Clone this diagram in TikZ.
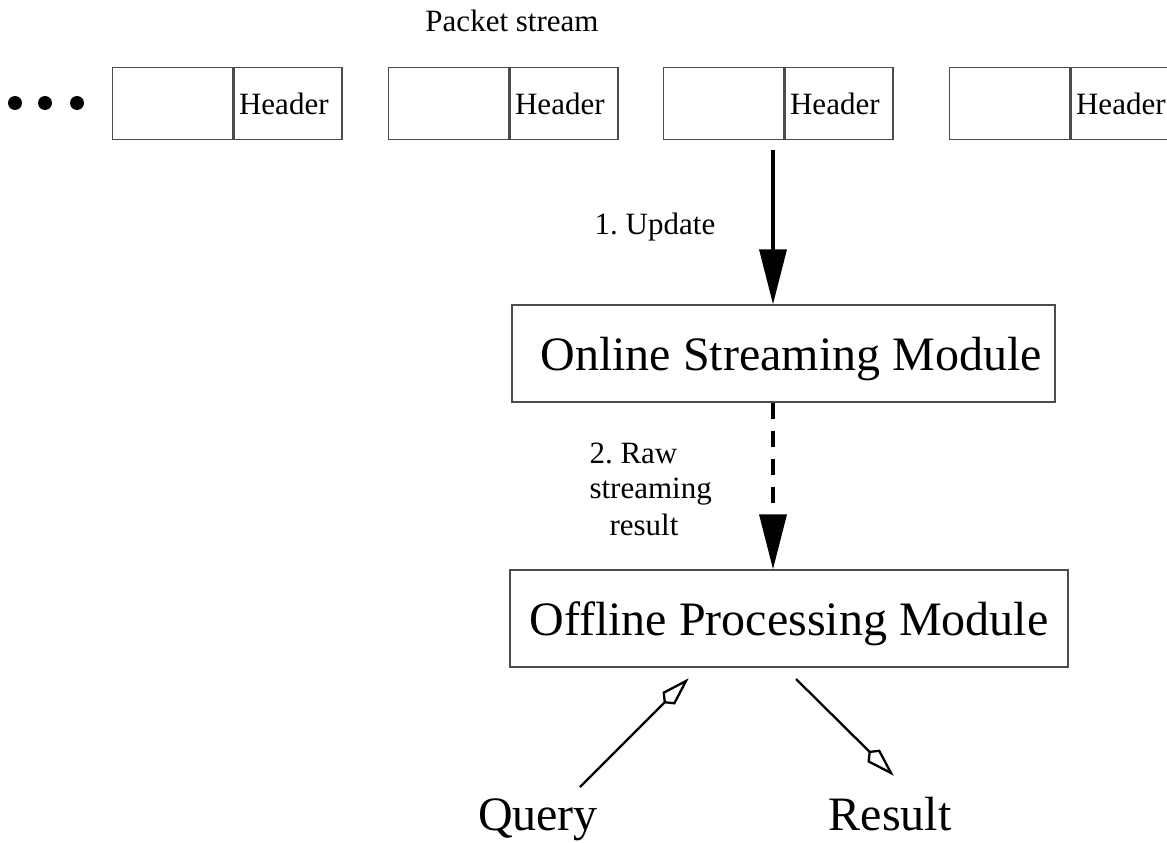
\documentclass[tikz,border=0pt]{standalone}
\usepackage{fontspec}
\setmainfont{Liberation Serif}
\frenchspacing
\usetikzlibrary{arrows.meta,calc}
% a line ending in an open kite-shaped head: #1 = start, #2 = tip
\newcommand\kitelink[2]{%
  \draw[link] (#1) -- ($(#2)!30pt!(#1)$);
  \draw[link] ($(#2)!30pt!(#1)$) -- ($(#2)!24pt!(#1)!7.5pt!90:(#1)$) -- (#2)
    -- ($(#2)!24pt!(#1)!7.5pt!-90:(#1)$) -- cycle;
}
\begin{document}
\begin{tikzpicture}[x=1pt,y=-1pt,
  frame/.style={draw=black!70, line width=1.4pt, inner sep=0pt},
  small/.style={font=\fontsize{31}{37}\selectfont},
  big/.style={font=\fontsize{48}{56}\selectfont},
  flow/.style={line width=3.6pt, -{Triangle[length=55pt,width=27pt]}},
  link/.style={line width=2.3pt, line join=miter},
  dot/.style={circle, fill=black, minimum size=14pt, inner sep=0pt},
]
\useasboundingbox (0,0) rectangle (1167,843);
\clip (0,0) rectangle (1167,843);

% the packet stream
\node[small, anchor=base] (title) at (512,32) {Packet stream};
\node[dot] (dot1) at (15,103) {};
\node[dot] (dot2) at (45,103) {};
\node[dot] (dot3) at (77,103) {};
\foreach \x [count=\i] in {112,388,663,949} {
  \node[frame, minimum width=120pt, minimum height=72pt, anchor=north west] (body\i) at (\x,67) {};
  \node[frame, small, minimum width=108pt, minimum height=72pt, anchor=north west,
        text width=98pt, inner xsep=5pt, align=left] (head\i) at (body\i.north east) {Header};
}

% the two modules
\node[frame, minimum width=543pt, minimum height=97pt] (online) at (783.5,353.5) {};
\node[big, inner sep=0pt, text height=33pt, text depth=0pt] (onlinetext) at (791,353.5) {Online Streaming Module};
\node[frame, big, minimum width=558pt, minimum height=97pt, text height=33pt, text depth=0pt] (offline) at (789,618.5) {Offline Processing Module};

% update and raw result arrows
\coordinate (upd) at (773,150);
\draw[flow] (upd) -- (upd |- online.north);
\draw[flow, dash pattern=on 16pt off 12pt] (upd |- online.south) -- (upd |- offline.north);
\node[small, anchor=base] (updlabel) at (655,234) {1. Update};
\node[small, anchor=base west] (raw1) at (586,463) {2. Raw};
\node[small, anchor=base west] (raw2) at (586,498) {streaming};
\node[small, anchor=base west] (raw3) at (606,535) {result};

% query and result
\node[big, anchor=base] (query) at (538,830) {Query};
\node[big, anchor=base] (result) at (890,830) {Result};
\coordinate (qs) at (580,787);
\coordinate (qt) at (686,681);
\coordinate (rs) at (796,679);
\coordinate (rt) at (891,773);
\kitelink{qs}{qt}
\kitelink{rs}{rt}
\end{tikzpicture}
\end{document}
